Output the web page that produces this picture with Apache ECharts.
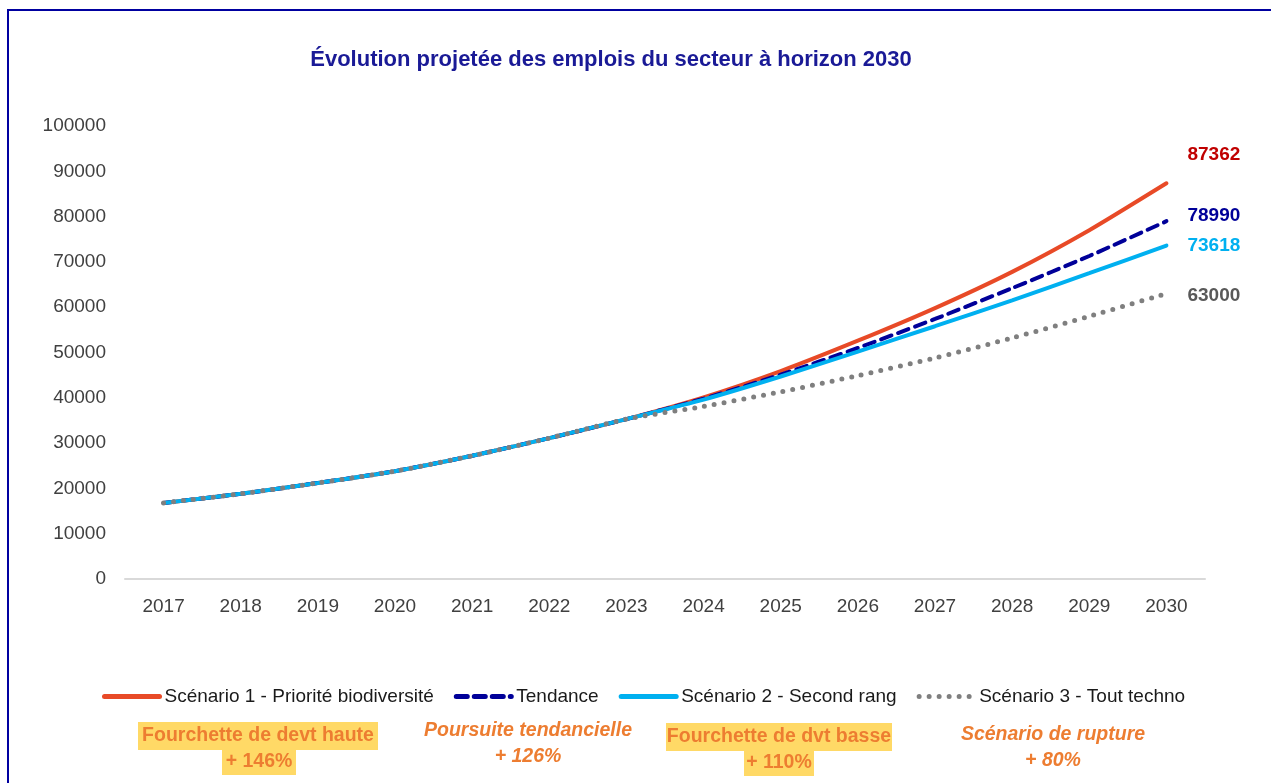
<!DOCTYPE html>
<html>
<head>
<meta charset="utf-8">
<script src="https://cdn.jsdelivr.net/npm/echarts@6/dist/echarts.min.js"></script>
<style>
html,body{margin:0;padding:0;background:#fff;}
#chart{width:1271px;height:783px;}
</style>
</head>
<body>
<div id="chart"></div>
<script>
const years = ['2017','2018','2019','2020','2021','2022','2023','2024','2025','2026','2027','2028','2029','2030'];
const scenario1 = [16800, 18800, 21200, 23800, 27200, 31100, 35300, 40100, 45900, 52600, 59800, 67800, 77000, 87362];
const tendance  = [16800, 18800, 21200, 23800, 27200, 31100, 35300, 39800, 45100, 51000, 57400, 64200, 71300, 78990];
const scenario2 = [16800, 18800, 21200, 23800, 27200, 31100, 35300, 39600, 44700, 50200, 55800, 61500, 67500, 73618];
const scenario3 = [16800, 18800, 21200, 23800, 27200, 31100, 35300, 38100, 41300, 44900, 48800, 53200, 58000, 63000];
const seriesNames = ['Scénario 1 - Priorité biodiversité', 'Tendance', 'Scénario 2 - Second rang', 'Scénario 3 - Tout techno'];
const yTicks = [0, 10000, 20000, 30000, 40000, 50000, 60000, 70000, 80000, 90000, 100000];

const FONT = 'Liberation Sans';
const chart = echarts.init(document.getElementById('chart'));

function endLabel(color, dx, dy) {
  return {
    show: true,
    formatter: '{c}',
    color: color,
    fontFamily: FONT,
    fontWeight: 'bold',
    fontSize: 19,
    distance: 0,
    offset: [dx, dy]
  };
}

const orange = '#ED7D31';
const yellow = '#FFD966';
const annFont = 'bold 19.5px "' + FONT + '"';
const annFontIt = 'italic bold 19.5px "' + FONT + '"';

chart.setOption({
  backgroundColor: '#ffffff',
  animation: false,
  title: {
    text: 'Évolution projetée des emplois du secteur à horizon 2030',
    left: 606,
    textAlign: 'center',
    top: 44,
    textStyle: { color: '#1A1A96', fontFamily: FONT, fontWeight: 'bold', fontSize: 22 }
  },
  grid: { left: 125, right: 66, top: 126, bottom: 204, containLabel: false },
  xAxis: {
    type: 'category',
    data: years,
    boundaryGap: true,
    axisLine: { lineStyle: { color: '#D9D9D9', width: 2 } },
    axisTick: { show: false },
    axisLabel: { color: '#404040', fontFamily: FONT, fontSize: 19, margin: 18 }
  },
  yAxis: {
    type: 'value',
    min: yTicks[0],
    max: yTicks[yTicks.length - 1],
    interval: yTicks[1] - yTicks[0],
    axisLine: { show: false },
    axisTick: { show: false },
    splitLine: { show: false },
    axisLabel: { color: '#404040', fontFamily: FONT, fontSize: 19, margin: 19, formatter: function (v) { return String(v); } }
  },
  legend: {
    left: 97,
    top: 682,
    itemWidth: 55,
    itemHeight: 14,
    itemGap: 20,
    itemStyle: { opacity: 0 },
    lineStyle: { width: 5, cap: 'round' },
    textStyle: { color: '#1A1A1A', fontFamily: FONT, fontSize: 19 },
    data: seriesNames
  },
  series: [
    {
      name: seriesNames[0], type: 'line', data: scenario1,
      symbol: 'none', smooth: 0.2,
      lineStyle: { color: '#E84A27', width: 4, cap: 'round' },
      itemStyle: { color: '#E84A27' },
      endLabel: endLabel('#C00000', 21, -28)
    },
    {
      name: seriesNames[1], type: 'line', data: tendance,
      symbol: 'none', smooth: 0.2,
      lineStyle: { color: '#000099', width: 4, type: [11, 7], cap: 'round' },
      itemStyle: { color: '#000099' },
      endLabel: endLabel('#000099', 21, -5)
    },
    {
      name: seriesNames[2], type: 'line', data: scenario2,
      symbol: 'none', smooth: 0.2,
      lineStyle: { color: '#00B0F0', width: 4, cap: 'round' },
      itemStyle: { color: '#00B0F0' },
      endLabel: endLabel('#00B0F0', 21, 0)
    },
    {
      name: seriesNames[3], type: 'line', data: scenario3,
      symbol: 'none', smooth: 0.2,
      lineStyle: { color: '#7F7F7F', width: 5, type: [0, 10], cap: 'round' },
      itemStyle: { color: '#7F7F7F' },
      endLabel: endLabel('#595959', 21, 2)
    }
  ],
  graphic: [
    { type: 'rect', shape: { x: 8, y: 10, width: 1300, height: 800 }, style: { fill: 'none', stroke: '#0000A0', lineWidth: 2 }, silent: true },
    { type: 'rect', shape: { x: 138, y: 722, width: 240, height: 28 }, style: { fill: yellow } },
    { type: 'rect', shape: { x: 222, y: 750, width: 74, height: 25 }, style: { fill: yellow } },
    { type: 'rect', shape: { x: 666, y: 723, width: 226, height: 28 }, style: { fill: yellow } },
    { type: 'rect', shape: { x: 744, y: 751, width: 70, height: 25 }, style: { fill: yellow } },
    { type: 'text', x: 258, y: 736, style: { text: 'Fourchette de devt haute', fill: orange, font: annFont, textAlign: 'center', textVerticalAlign: 'middle' } },
    { type: 'text', x: 259, y: 762, style: { text: '+ 146%', fill: orange, font: annFont, textAlign: 'center', textVerticalAlign: 'middle' } },
    { type: 'text', x: 528, y: 731, style: { text: 'Poursuite tendancielle', fill: orange, font: annFontIt, textAlign: 'center', textVerticalAlign: 'middle' } },
    { type: 'text', x: 528, y: 757, style: { text: '+ 126%', fill: orange, font: annFontIt, textAlign: 'center', textVerticalAlign: 'middle' } },
    { type: 'text', x: 779, y: 737, style: { text: 'Fourchette de dvt basse', fill: orange, font: annFont, textAlign: 'center', textVerticalAlign: 'middle' } },
    { type: 'text', x: 779, y: 763, style: { text: '+ 110%', fill: orange, font: annFont, textAlign: 'center', textVerticalAlign: 'middle' } },
    { type: 'text', x: 1053, y: 735, style: { text: 'Scénario de rupture', fill: orange, font: annFontIt, textAlign: 'center', textVerticalAlign: 'middle' } },
    { type: 'text', x: 1053, y: 761, style: { text: '+ 80%', fill: orange, font: annFontIt, textAlign: 'center', textVerticalAlign: 'middle' } }
  ]
});
</script>
</body>
</html>
